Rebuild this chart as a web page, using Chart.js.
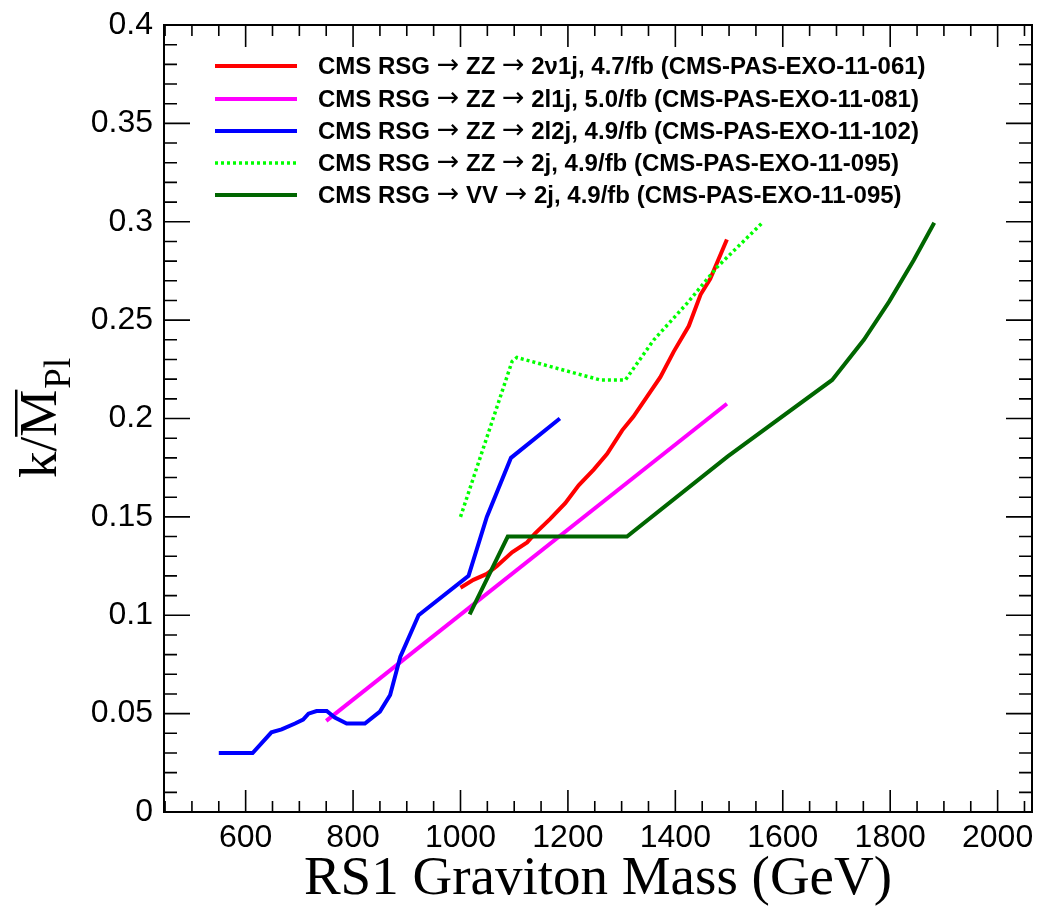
<!DOCTYPE html>
<html>
<head>
<meta charset="utf-8">
<script src="https://cdn.jsdelivr.net/npm/chart.js@4.4.1/dist/chart.umd.min.js"></script>
<style>
  html, body { margin: 0; padding: 0; background: #fff; }
  canvas { display: block; }
</style>
</head>
<body>
<canvas id="limits" width="1039" height="915"></canvas>
<script>
// ---------------- DATA ----------------

const xTicks = [600, 800, 1000, 1200, 1400, 1600, 1800, 2000];
const xTickLabels = ["600", "800", "1000", "1200", "1400", "1600", "1800", "2000"];
const yTicks = [0, 0.05, 0.1, 0.15, 0.2, 0.25, 0.3, 0.35, 0.4];
const yTickLabels = ["0", "0.05", "0.1", "0.15", "0.2", "0.25", "0.3", "0.35", "0.4"];

const seriesNames = [
    "CMS RSG \u2192 ZZ \u2192 2\u03bd1j, 4.7/fb (CMS-PAS-EXO-11-061)",
    "CMS RSG \u2192 ZZ \u2192 2l1j, 5.0/fb (CMS-PAS-EXO-11-081)",
    "CMS RSG \u2192 ZZ \u2192 2l2j, 4.9/fb (CMS-PAS-EXO-11-102)",
    "CMS RSG \u2192 ZZ \u2192 2j, 4.9/fb (CMS-PAS-EXO-11-095)",
    "CMS RSG \u2192 VV \u2192 2j, 4.9/fb (CMS-PAS-EXO-11-095)"
];

// 2nu1j (red)
const massNu1j = [1000, 1024, 1049, 1068, 1096, 1124, 1139, 1167, 1195, 1220, 1248, 1273, 1301, 1322, 1347, 1372, 1397, 1425, 1447, 1465, 1496];
const kNu1j    = [0.114, 0.118, 0.121, 0.125, 0.132, 0.137, 0.1416, 0.149, 0.157, 0.166, 0.174, 0.182, 0.194, 0.201, 0.211, 0.221, 0.234, 0.247, 0.263, 0.271, 0.291];

// 2l1j (magenta)
const massL1j = [750, 1496];
const kL1j    = [0.0463, 0.2075];

// 2l2j (blue)
const massL2j = [550, 613, 648, 667, 692, 707, 717, 732, 751, 766, 788, 822, 850, 869, 888, 922, 1015, 1049, 1094, 1185];
const kL2j    = [0.03, 0.03, 0.0405, 0.042, 0.045, 0.047, 0.05, 0.0513, 0.0513, 0.048, 0.045, 0.045, 0.051, 0.0595, 0.079, 0.1, 0.12, 0.15, 0.18, 0.2];

// ZZ 2j (light green, dotted)
const massZZ2j = [1000, 1096, 1105, 1260, 1307, 1360, 1422, 1478, 1562];
const kZZ2j    = [0.150, 0.229, 0.231, 0.2196, 0.2196, 0.240, 0.2586, 0.277, 0.2995];

// VV 2j (dark green)
const massVV2j = [1017, 1088, 1310, 1497, 1692, 1751, 1798, 1844, 1882];
const kVV2j    = [0.1005, 0.14, 0.14, 0.1806, 0.2196, 0.240, 0.2594, 0.2806, 0.2995];

const colors = ["#ff0000", "#ff00ff", "#0000ff", "#00ff00", "#006600"];

function pairs(xs, ys) {
    return xs.map((x, i) => ({ x: x, y: ys[i] }));
}

const seriesData = [
    pairs(massNu1j, kNu1j),
    pairs(massL1j, kL1j),
    pairs(massL2j, kL2j),
    pairs(massZZ2j, kZZ2j),
    pairs(massVV2j, kVV2j)
];

// ---------------- PLUGINS ----------------

// ROOT style frame with inward ticks on all four sides
const framePlugin = {
    id: "frame",
    afterDraw(chart) {
        const { ctx, chartArea: a, scales } = chart;
        const x = scales.x, y = scales.y;
        ctx.save();
        ctx.strokeStyle = "#000";
        ctx.lineWidth = 1.6;
        ctx.beginPath();
        for (let v = 450; v <= x.max; v += 50) {
            const px = x.getPixelForValue(v);
            const len = v % 200 === 0 ? 22 : 11;
            ctx.moveTo(px, a.bottom);
            ctx.lineTo(px, a.bottom - len);
            ctx.moveTo(px, a.top);
            ctx.lineTo(px, a.top + len);
        }
        for (let i = 1; i < 40; i++) {
            const py = y.getPixelForValue(i / 100);
            const len = i % 5 === 0 ? 26 : 13;
            ctx.moveTo(a.left, py);
            ctx.lineTo(a.left + len, py);
            ctx.moveTo(a.right, py);
            ctx.lineTo(a.right - len, py);
        }
        ctx.stroke();
        ctx.lineWidth = 2;
        ctx.strokeRect(a.left, a.top, a.right - a.left, a.bottom - a.top);
        ctx.restore();
    }
};

// legend box in the upper left of the frame
const textFont = "bold 24px 'Liberation Sans', Arial, sans-serif";
const arrowFont = "27px 'DejaVu Sans', sans-serif";

const legendPlugin = {
    id: "rootLegend",
    afterDraw(chart) {
        const ctx = chart.ctx;
        const rowY = [66, 99, 131, 163, 195];
        ctx.save();
        ctx.textBaseline = "middle";
        ctx.fillStyle = "#000";
        chart.data.datasets.forEach((ds, i) => {
            const yy = rowY[i];
            ctx.strokeStyle = ds.borderColor;
            ctx.lineWidth = ds.borderWidth;
            ctx.setLineDash(ds.borderDash || []);
            ctx.beginPath();
            ctx.moveTo(215, yy);
            ctx.lineTo(297, yy);
            ctx.stroke();
            ctx.setLineDash([]);

            // arrows drawn with a font that has a full width arrow glyph
            let tx = 318;
            ds.label.split(/(\u2192)/).forEach(part => {
                if (!part) return;
                if (part === "\u2192") {
                    ctx.font = arrowFont;
                    ctx.fillText(part, tx, yy);
                } else {
                    ctx.font = textFont;
                    ctx.fillText(part, tx, yy + 1);
                }
                tx += ctx.measureText(part).width;
            });
        });
        ctx.restore();
    }
};

// y title k / M-bar _Pl, rotated
const yTitlePlugin = {
    id: "yTitle",
    afterDraw(chart) {
        const ctx = chart.ctx;
        ctx.save();
        ctx.translate(56, 478);
        ctx.rotate(-Math.PI / 2);
        ctx.fillStyle = "#000";
        ctx.textBaseline = "alphabetic";
        ctx.font = "53px 'Liberation Serif', 'Times New Roman', serif";
        const kw = ctx.measureText("k/").width;
        const mw = ctx.measureText("M").width;
        ctx.fillText("k/M", 0, 0);
        ctx.fillRect(kw, -41, mw, 2.5);
        ctx.font = "37px 'Liberation Serif', 'Times New Roman', serif";
        ctx.fillText("Pl", kw + mw + 1, 14);
        ctx.restore();
    }
};

// ---------------- CHART ----------------

const datasets = seriesData.map((pts, i) => ({
    label: seriesNames[i],
    data: pts,
    borderColor: colors[i],
    backgroundColor: colors[i],
    borderWidth: i === 3 ? 3.5 : 4,
    borderDash: i === 3 ? [3, 3] : [],
    borderCapStyle: "butt",
    pointRadius: 0,
    tension: 0,
    fill: false,
    order: 5 - i
}));

new Chart(document.getElementById("limits"), {
    type: "line",
    data: { datasets: datasets },
    options: {
        responsive: false,
        animation: false,
        layout: { padding: { top: 25, right: 7, left: 0, bottom: 0 } },
        plugins: {
            legend: { display: false },
            tooltip: { enabled: false }
        },
        scales: {
            x: {
                type: "linear",
                min: 448,
                max: 2064,
                afterFit(s) { s.height = 103; s.paddingLeft = 0; s.paddingRight = 0; },
                afterBuildTicks(s) { s.ticks = xTicks.map(v => ({ value: v })); },
                grid: { display: false, drawTicks: false },
                border: { display: false },
                ticks: {
                    color: "#000",
                    padding: 7,
                    maxRotation: 0,
                    autoSkip: false,
                    font: { family: "'Liberation Sans', Arial, sans-serif", size: 32 },
                    callback: (v, i) => xTickLabels[i]
                },
                title: {
                    display: true,
                    text: "RS1 Graviton Mass (GeV)",
                    color: "#000",
                    font: { family: "'Liberation Serif', 'Times New Roman', serif", size: 55 },
                    padding: { top: 0, bottom: 2 }
                }
            },
            y: {
                min: 0,
                max: 0.4,
                afterFit(s) { s.width = 164; s.paddingTop = 0; s.paddingBottom = 0; },
                afterBuildTicks(s) { s.ticks = yTicks.map(v => ({ value: v })); },
                grid: { display: false, drawTicks: false },
                border: { display: false },
                ticks: {
                    color: "#000",
                    padding: 11,
                    autoSkip: false,
                    font: { family: "'Liberation Sans', Arial, sans-serif", size: 32 },
                    callback: (v, i) => yTickLabels[i]
                }
            }
        }
    },
    plugins: [framePlugin, legendPlugin, yTitlePlugin]
});
</script>
</body>
</html>
